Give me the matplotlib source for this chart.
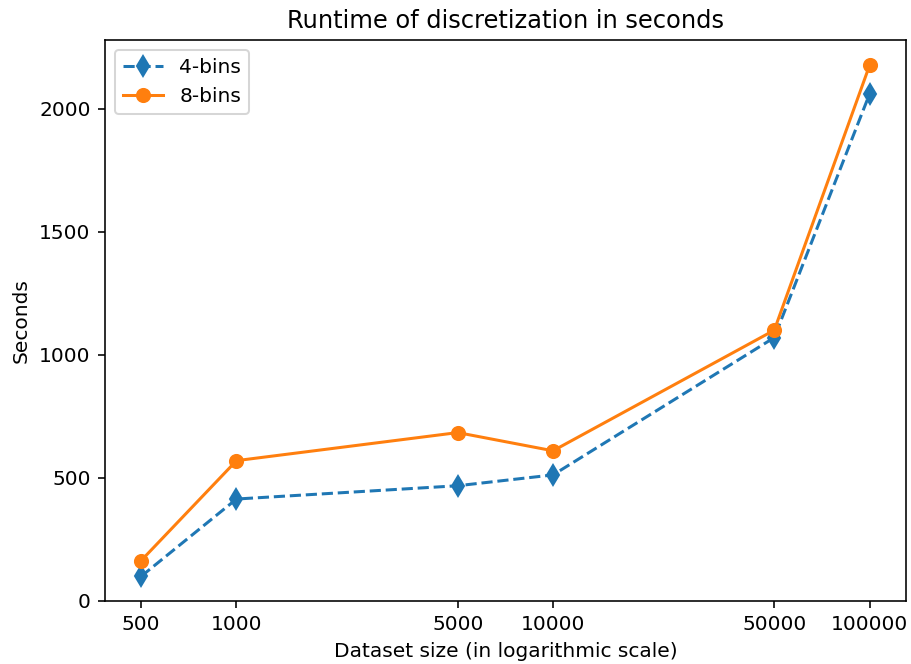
import matplotlib
matplotlib.use("Agg")
import matplotlib.pyplot as plt

sizes = [500, 1000, 5000, 10000, 50000, 100000]
bins4 = [100, 414, 468, 512, 1070, 2060]
bins8 = [164, 570, 684, 610, 1100, 2176]

dpi = 145
fig, ax = plt.subplots(figsize=(911 / dpi, 664 / dpi), dpi=dpi)
fig.subplots_adjust(left=0.115, right=0.9945, top=0.94, bottom=0.095)

ax.plot(sizes, bins4, "d--", label="4-bins", markersize=7)
ax.plot(sizes, bins8, "o-", label="8-bins", markersize=6.5)
ax.set_xscale("log")
ax.set_xticks(sizes)
ax.set_xticklabels([str(s) for s in sizes])
ax.minorticks_off()
ax.set_ylim(bottom=0)

ax.set_title("Runtime of discretization in seconds")
ax.set_xlabel("Dataset size (in logarithmic scale)")
ax.set_ylabel("Seconds")
ax.legend(loc="upper left")

fig.savefig("out.png", dpi=dpi)
